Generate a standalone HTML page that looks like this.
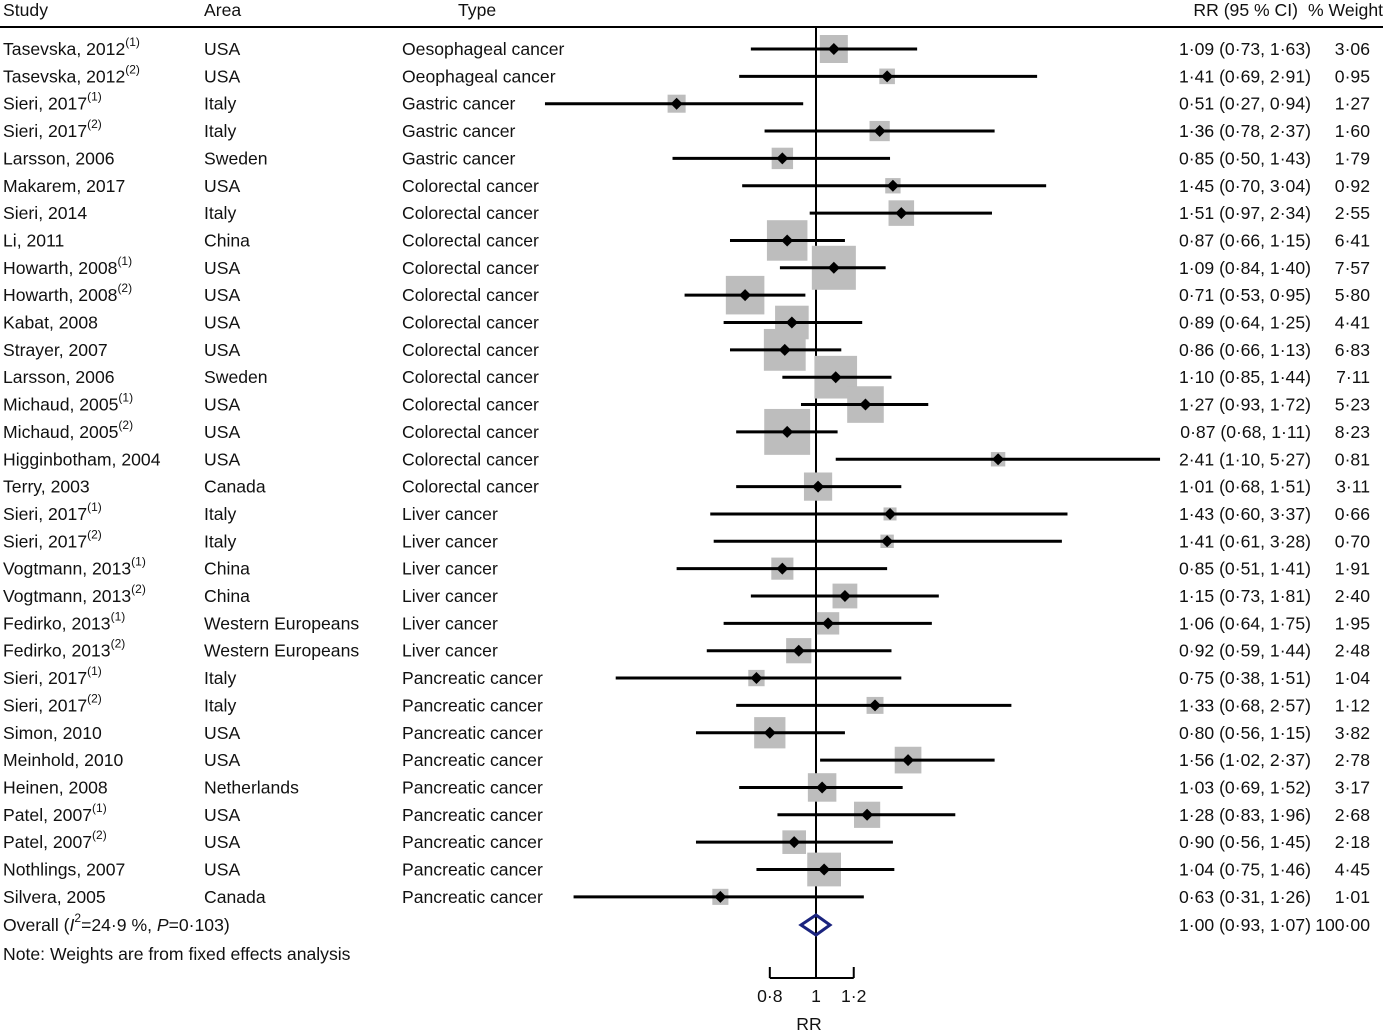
<!DOCTYPE html>
<html><head><meta charset="utf-8">
<style>
body{margin:0;background:#fff;}
svg{display:block;font-family:"Liberation Sans",Arial,sans-serif;}
text{font-size:17.6px;fill:#111;}
</style></head><body>
<svg id="chart" width="1383" height="1035"></svg>
<script>
const studies=["Tasevska, 2012|1","Tasevska, 2012|2","Sieri, 2017|1","Sieri, 2017|2","Larsson, 2006|","Makarem, 2017|","Sieri, 2014|","Li, 2011|","Howarth, 2008|1","Howarth, 2008|2","Kabat, 2008|","Strayer, 2007|","Larsson, 2006|","Michaud, 2005|1","Michaud, 2005|2","Higginbotham, 2004|","Terry, 2003|","Sieri, 2017|1","Sieri, 2017|2","Vogtmann, 2013|1","Vogtmann, 2013|2","Fedirko, 2013|1","Fedirko, 2013|2","Sieri, 2017|1","Sieri, 2017|2","Simon, 2010|","Meinhold, 2010|","Heinen, 2008|","Patel, 2007|1","Patel, 2007|2","Nothlings, 2007|","Silvera, 2005|"];
const areas=["USA","USA","Italy","Italy","Sweden","USA","Italy","China","USA","USA","USA","USA","Sweden","USA","USA","USA","Canada","Italy","Italy","China","China","Western Europeans","Western Europeans","Italy","Italy","USA","USA","Netherlands","USA","USA","USA","Canada"];
const types=["Oesophageal cancer","Oeophageal cancer","Gastric cancer","Gastric cancer","Gastric cancer","Colorectal cancer","Colorectal cancer","Colorectal cancer","Colorectal cancer","Colorectal cancer","Colorectal cancer","Colorectal cancer","Colorectal cancer","Colorectal cancer","Colorectal cancer","Colorectal cancer","Colorectal cancer","Liver cancer","Liver cancer","Liver cancer","Liver cancer","Liver cancer","Liver cancer","Pancreatic cancer","Pancreatic cancer","Pancreatic cancer","Pancreatic cancer","Pancreatic cancer","Pancreatic cancer","Pancreatic cancer","Pancreatic cancer","Pancreatic cancer"];
const rr=[1.09,1.41,0.51,1.36,0.85,1.45,1.51,0.87,1.09,0.71,0.89,0.86,1.10,1.27,0.87,2.41,1.01,1.43,1.41,0.85,1.15,1.06,0.92,0.75,1.33,0.80,1.56,1.03,1.28,0.90,1.04,0.63];
const lo=[0.73,0.69,0.27,0.78,0.50,0.70,0.97,0.66,0.84,0.53,0.64,0.66,0.85,0.93,0.68,1.10,0.68,0.60,0.61,0.51,0.73,0.64,0.59,0.38,0.68,0.56,1.02,0.69,0.83,0.56,0.75,0.31];
const hi=[1.63,2.91,0.94,2.37,1.43,3.04,2.34,1.15,1.40,0.95,1.25,1.13,1.44,1.72,1.11,5.27,1.51,3.37,3.28,1.41,1.81,1.75,1.44,1.51,2.57,1.15,2.37,1.52,1.96,1.45,1.46,1.26];
const weights=[3.06,0.95,1.27,1.60,1.79,0.92,2.55,6.41,7.57,5.80,4.41,6.83,7.11,5.23,8.23,0.81,3.11,0.66,0.70,1.91,2.40,1.95,2.48,1.04,1.12,3.82,2.78,3.17,2.68,2.18,4.45,1.01];
const overall=[1.00,0.93,1.07];
const ticks=[0.8,1,1.2];
const tickLabels=["0·8","1","1·2"];

const svg=document.getElementById('chart');const NS='http://www.w3.org/2000/svg';
const X=v=>816+207*Math.log(v);
const Y=i=>49+i*27.35;
const f=v=>v.toFixed(2).replace('.','·');
function el(t,a,txt){const e=document.createElementNS(NS,t);for(const k in a)e.setAttribute(k,a[k]);if(txt!=null)e.textContent=txt;svg.appendChild(e);return e;}
function txt(x,y,s,anchor,name){const e=el('text',{x:x,y:y,'text-anchor':anchor||'start','dominant-baseline':'central'},s);

return e;}
txt(3,10,"Study","start","study-header");txt(204,10,"Area","start","area-header");txt(458,10,"Type","start","type-header");
txt(1298,10,"RR (95 % CI)","end","rr-header");txt(1383,10,"% Weight","end","weight-header");
let hl=el('line',{x1:0,x2:1383,y1:27,y2:27,stroke:'#000','stroke-width':2});


let nl=el('line',{x1:X(1),x2:X(1),y1:27,y2:978,stroke:'#000','stroke-width':2});


studies.forEach((s,i)=>{
 const y=Y(i);const [nm,sup]=s.split('|');
 const t=txt(3,y,nm,"start","study-label");
 if(sup){const ts=document.createElementNS(NS,'tspan');ts.setAttribute('dy','-7');ts.setAttribute('font-size','12');ts.textContent='('+sup+')';t.appendChild(ts);}
 txt(204,y,areas[i],"start","area-label");
 txt(402,y,types[i],"start","type-label");
 txt(1311,y,f(rr[i])+" ("+f(lo[i])+", "+f(hi[i])+")","end","rr-value");
 txt(1370,y,f(weights[i]),"end","weight-value");
 const sz=16*Math.sqrt(weights[i]);
 const b=el('rect',{x:X(rr[i])-sz/2,y:y-sz/2,width:sz,height:sz,fill:'#bdbdbd'});
 
 
 const l=el('line',{x1:X(lo[i]),x2:X(hi[i]),y1:y,y2:y,stroke:'#000','stroke-width':3});
 
 
 const cx=X(rr[i]);
 const d=el('polygon',{points:`${cx-6},${y} ${cx},${y-6} ${cx+6},${y} ${cx},${y+6}`,fill:'#000'});
 
 
});
const yo=925;
const ot=txt(3,yo,"Overall (","start","overall-label");
[["I","italic"],["2","sup"],["=24·9 %, ","down"],["P","italic"],["=0·103)",""]].forEach(p=>{const ts=document.createElementNS(NS,'tspan');ts.textContent=p[0];if(p[1]=='italic')ts.setAttribute('font-style','italic');if(p[1]=='sup'){ts.setAttribute('dy','-7');ts.setAttribute('font-size','12');}if(p[1]=='down')ts.setAttribute('dy','7');ot.appendChild(ts);});
txt(1311,yo,f(overall[0])+" ("+f(overall[1])+", "+f(overall[2])+")","end","overall-rr");
txt(1370,yo,"100·00","end","overall-weight");
const od=el('polygon',{points:`${X(overall[1])},${yo} ${X(overall[0])},${yo-10} ${X(overall[2])},${yo} ${X(overall[0])},${yo+10}`,fill:'none',stroke:'#1a237e','stroke-width':3});


txt(3,954,"Note: Weights are from fixed effects analysis","start","weights-note");
const ax=el('line',{x1:X(ticks[0]),x2:X(ticks[ticks.length-1]),y1:978,y2:978,stroke:'#000','stroke-width':2});


ticks.forEach((t,i)=>{const tk=el('line',{x1:X(t),x2:X(t),y1:967,y2:978,stroke:'#000','stroke-width':2});


txt(X(t),996,tickLabels[i],"middle","x-tick-label");});
txt(809,1024,"RR","middle","x-axis-title");
</script>
</body></html>
